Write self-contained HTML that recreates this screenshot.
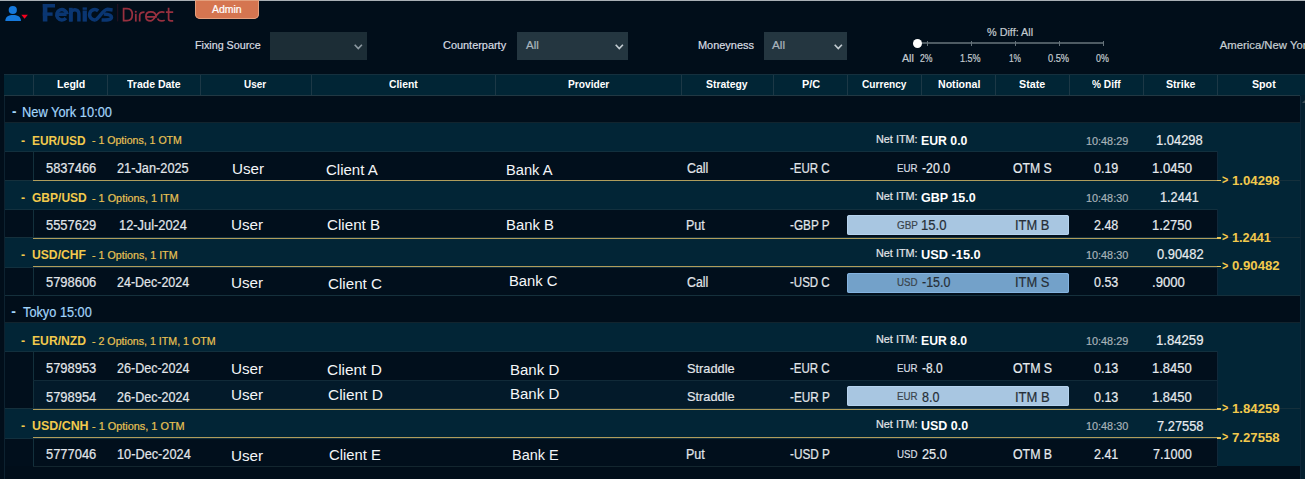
<!DOCTYPE html>
<html><head><meta charset="utf-8"><style>
html,body{margin:0;padding:0;width:1305px;height:479px;overflow:hidden;background:#010e1a;}
.r{position:absolute;}
.t{position:absolute;white-space:nowrap;font-family:"Liberation Sans", sans-serif;transform-origin:0 0;}
</style></head><body>
<div class="r" style="left:0px;top:0px;width:1305px;height:1px;background:#a9b0b5;"></div>
<div class="r" style="left:195px;top:0px;width:64px;height:19px;background:#d57550;border-radius:0 0 5px 5px;box-shadow:inset 0 0 0 1px #e4a07e;"></div>
<div class="r" style="left:270px;top:32px;width:97px;height:28px;background:#1c2d36;"></div>
<div class="r" style="left:517px;top:32px;width:111px;height:28px;background:#243640;"></div>
<div class="r" style="left:764px;top:32px;width:83px;height:28px;background:#243640;"></div>
<div class="r" style="left:917px;top:42px;width:187px;height:2px;background:#4e5b63;"></div>
<div class="r" style="left:926.5px;top:41px;width:1px;height:5px;background:#66737a;"></div>
<div class="r" style="left:970.5px;top:41px;width:1px;height:5px;background:#66737a;"></div>
<div class="r" style="left:1015px;top:41px;width:1px;height:5px;background:#66737a;"></div>
<div class="r" style="left:1059px;top:41px;width:1px;height:5px;background:#66737a;"></div>
<div class="r" style="left:1103px;top:41px;width:1px;height:5px;background:#66737a;"></div>
<div class="r" style="left:912.9px;top:38.8px;width:9px;height:9px;border-radius:50%;background:#ffffff"></div>
<div class="r" style="left:4px;top:74px;width:1301px;height:22px;background:#012535;box-shadow:inset 0 1px 0 #15303e;"></div>
<div class="r" style="left:4px;top:95px;width:1296px;height:1px;background:#213843;"></div>
<div class="r" style="left:33px;top:75px;width:1px;height:20px;background:#1c3846;"></div>
<div class="r" style="left:107px;top:75px;width:1px;height:20px;background:#1c3846;"></div>
<div class="r" style="left:200px;top:75px;width:1px;height:20px;background:#1c3846;"></div>
<div class="r" style="left:311px;top:75px;width:1px;height:20px;background:#1c3846;"></div>
<div class="r" style="left:495px;top:75px;width:1px;height:20px;background:#1c3846;"></div>
<div class="r" style="left:681px;top:75px;width:1px;height:20px;background:#1c3846;"></div>
<div class="r" style="left:773px;top:75px;width:1px;height:20px;background:#1c3846;"></div>
<div class="r" style="left:847px;top:75px;width:1px;height:20px;background:#1c3846;"></div>
<div class="r" style="left:921px;top:75px;width:1px;height:20px;background:#1c3846;"></div>
<div class="r" style="left:995px;top:75px;width:1px;height:20px;background:#1c3846;"></div>
<div class="r" style="left:1069px;top:75px;width:1px;height:20px;background:#1c3846;"></div>
<div class="r" style="left:1143px;top:75px;width:1px;height:20px;background:#1c3846;"></div>
<div class="r" style="left:1217px;top:75px;width:1px;height:20px;background:#1c3846;"></div>
<div class="r" style="left:4px;top:96px;width:1px;height:383px;background:#0d2230;"></div>
<div class="r" style="left:5px;top:96px;width:1295px;height:370px;background:#022536;"></div>
<div class="r" style="left:5px;top:96px;width:1295px;height:27px;background:#010e1a;"></div>
<div class="r" style="left:5px;top:122px;width:1295px;height:1px;background:#12242e;"></div>
<div class="r" style="left:5px;top:151px;width:28px;height:29px;background:#010f1c;"></div>
<div class="r" style="left:33px;top:151px;width:1184px;height:29px;background:#010f1c;"></div>
<div class="r" style="left:5px;top:151px;width:1212px;height:1px;background:#12303e;"></div>
<div class="r" style="left:33px;top:151px;width:1px;height:29px;background:#13303c;"></div>
<div class="r" style="left:1217px;top:151px;width:1px;height:29px;background:#10283a;"></div>
<div class="r" style="left:5px;top:180px;width:1295px;height:1px;background:#15303c;"></div>
<div class="r" style="left:5px;top:209px;width:28px;height:28px;background:#010f1c;"></div>
<div class="r" style="left:33px;top:209px;width:1184px;height:28px;background:#010f1c;"></div>
<div class="r" style="left:5px;top:209px;width:1212px;height:1px;background:#12303e;"></div>
<div class="r" style="left:33px;top:209px;width:1px;height:28px;background:#13303c;"></div>
<div class="r" style="left:1217px;top:209px;width:1px;height:28px;background:#10283a;"></div>
<div class="r" style="left:5px;top:237px;width:1295px;height:1px;background:#15303c;"></div>
<div class="r" style="left:5px;top:267px;width:28px;height:28px;background:#010f1c;"></div>
<div class="r" style="left:33px;top:267px;width:1184px;height:28px;background:#010f1c;"></div>
<div class="r" style="left:5px;top:267px;width:1212px;height:1px;background:#12303e;"></div>
<div class="r" style="left:33px;top:267px;width:1px;height:28px;background:#13303c;"></div>
<div class="r" style="left:1217px;top:267px;width:1px;height:28px;background:#10283a;"></div>
<div class="r" style="left:5px;top:295px;width:1295px;height:1px;background:#15303c;"></div>
<div class="r" style="left:5px;top:296px;width:1295px;height:27px;background:#010e1a;"></div>
<div class="r" style="left:5px;top:322px;width:1295px;height:1px;background:#12242e;"></div>
<div class="r" style="left:5px;top:351px;width:28px;height:29px;background:#010f1c;"></div>
<div class="r" style="left:33px;top:351px;width:1184px;height:29px;background:#010f1c;"></div>
<div class="r" style="left:5px;top:351px;width:1212px;height:1px;background:#12303e;"></div>
<div class="r" style="left:33px;top:351px;width:1px;height:29px;background:#13303c;"></div>
<div class="r" style="left:1217px;top:351px;width:1px;height:29px;background:#10283a;"></div>
<div class="r" style="left:5px;top:380px;width:28px;height:28px;background:#010f1c;"></div>
<div class="r" style="left:33px;top:380px;width:1184px;height:28px;background:#031a2a;"></div>
<div class="r" style="left:33px;top:380px;width:1px;height:28px;background:#13303c;"></div>
<div class="r" style="left:1217px;top:380px;width:1px;height:28px;background:#10283a;"></div>
<div class="r" style="left:33px;top:380px;width:1184px;height:1px;background:#112a38;"></div>
<div class="r" style="left:5px;top:408px;width:1295px;height:1px;background:#15303c;"></div>
<div class="r" style="left:5px;top:438px;width:28px;height:28px;background:#010f1c;"></div>
<div class="r" style="left:33px;top:438px;width:1184px;height:28px;background:#010f1c;"></div>
<div class="r" style="left:5px;top:438px;width:1212px;height:1px;background:#12303e;"></div>
<div class="r" style="left:33px;top:438px;width:1px;height:28px;background:#13303c;"></div>
<div class="r" style="left:1217px;top:438px;width:1px;height:28px;background:#10283a;"></div>
<div class="r" style="left:5px;top:466px;width:1295px;height:13px;background:#010e1a;"></div>
<div class="r" style="left:33px;top:466px;width:1184px;height:1px;background:#13262f;"></div>
<div class="r" style="left:1300px;top:96px;width:1px;height:383px;background:#10283a;"></div>
<div class="r" style="left:1301px;top:95px;width:4px;height:384px;background:#05202f;"></div>
<svg class="r" style="left:1302px;top:100px" width="3" height="3" viewBox="0 0 3 3"><path d="M0 3 L2.5 0.3 L3 0.8 L3 3Z" fill="#3c4c56"/></svg>
<div class="r" style="left:847px;top:215px;width:222px;height:19.80000000000001px;background:#a8c6e1;border-radius:2.5px;box-shadow:inset 0 0 0 1px #b6d3ee"></div>
<div class="r" style="left:847px;top:272.5px;width:222px;height:20.30000000000001px;background:#73a1c9;border-radius:2.5px;box-shadow:inset 0 0 0 1px #84b3e0"></div>
<div class="r" style="left:847px;top:386.4px;width:222px;height:19.80000000000001px;background:#a8c6e1;border-radius:2.5px;box-shadow:inset 0 0 0 1px #b6d3ee"></div>
<div class="r" style="left:33px;top:180px;width:1184px;height:1.2px;background:#b09d5c"></div>
<div class="r" style="left:1216.5px;top:179.7px;width:4.8px;height:1.8px;background:#e8c558"></div>
<div class="r" style="left:33px;top:237.5px;width:1184px;height:1.2px;background:#b09d5c"></div>
<div class="r" style="left:1216.5px;top:237.2px;width:4.8px;height:1.8px;background:#e8c558"></div>
<div class="r" style="left:33px;top:266px;width:1184px;height:1.2px;background:#b09d5c"></div>
<div class="r" style="left:1216.5px;top:265.7px;width:4.8px;height:1.8px;background:#e8c558"></div>
<div class="r" style="left:33px;top:408.5px;width:1184px;height:1.2px;background:#b09d5c"></div>
<div class="r" style="left:1216.5px;top:408.2px;width:4.8px;height:1.8px;background:#e8c558"></div>
<div class="r" style="left:33px;top:437.3px;width:1184px;height:1.2px;background:#b09d5c"></div>
<div class="r" style="left:1216.5px;top:437.0px;width:4.8px;height:1.8px;background:#e8c558"></div>

<svg class="r" style="left:0;top:0" width="200" height="30" viewBox="0 0 200 30">
  <circle cx="12.8" cy="10" r="4.1" fill="#1679dc"/>
  <path d="M5.3 21 C5.3 16.5 9 15 13.1 15 C17.2 15 21 16.5 21 21 Z" fill="#1679dc"/>
  <path d="M21.3 14.7 L27.8 14.7 L24.55 18.8 Z" fill="#f5001e"/>
</svg>
<svg class="r" style="left:354px;top:44px" width="10" height="7" viewBox="0 0 10 7"><path d="M0.7 0.7 L4.3 4.6 L7.9 0.7" stroke="#8d9aa2" stroke-width="1.6" fill="none"/></svg>
<svg class="r" style="left:615px;top:44px" width="10" height="7" viewBox="0 0 10 7"><path d="M0.7 0.7 L4.3 4.6 L7.9 0.7" stroke="#c4cdd2" stroke-width="1.6" fill="none"/></svg>
<svg class="r" style="left:834px;top:44px" width="10" height="7" viewBox="0 0 10 7"><path d="M0.7 0.7 L4.3 4.6 L7.9 0.7" stroke="#c4cdd2" stroke-width="1.6" fill="none"/></svg>


<svg class="r" style="left:0;top:0" width="180" height="26" viewBox="0 0 180 26">
 <g fill="#0a3672">
  <rect x="42.8" y="4" width="4.6" height="17.5"/>
  <rect x="42.8" y="4" width="12.2" height="3.5"/>
  <rect x="42.8" y="12.4" width="9.8" height="3.4"/>
  <rect x="68.9" y="7.8" width="3.8" height="13.7"/>
  <rect x="82.6" y="7.4" width="4.3" height="2.4"/>
  <rect x="82.6" y="10.5" width="4.3" height="11.1"/>
 </g>
 <g fill="none" stroke="#0a3672" stroke-width="3.5">
  <path d="M57.2 14.3 L66.6 14.3 M67.1 14.3 A5.2 5.2 0 1 0 65.9 18.2"/>
  <path d="M70.8 21.5 L70.8 13.7 A4.05 4.05 0 0 1 78.9 13.7 L78.9 21.5"/>
  <path d="M98.2 10.9 A5.15 5.15 0 1 0 95.6 19.8"/>
  <path d="M95.2 19.9 C99 18.5, 103 9.5, 107.5 9.3 L112.6 10"/>
  <path d="M103.8 13.9 C107 14.1, 111.5 14.4, 111.5 17.3 C111.5 20.3, 106 20.1, 101.6 19.9"/>
 </g>
 <rect x="117.2" y="4" width="1" height="17.4" fill="#2a1222"/>
 <g fill="none" stroke="#97303f" stroke-width="1.75" stroke-linecap="butt">
  <path d="M123.6 8.5 L123.6 20.7 L127 20.7 C131 20.7 132.3 17.5 132.3 14.6 C132.3 11.5 131 8.5 127 8.5 Z"/>
  <path d="M135.8 13.8 L135.8 21.6"/>
  <path d="M139.7 21.6 L139.7 15.5 C139.7 13 141.5 12 144.5 12"/>
  <path d="M146.2 16.8 L156 16.8 C156 13.5 153.8 11.9 150.8 11.9 C147.7 11.9 145.9 13.8 145.9 16.5 C145.9 19.5 147.7 20.9 150.5 20.9 C154 20.9 157 13 159.5 12.3 C161.5 11.8 163.5 12 164.5 12.5"/>
  <path d="M157.6 18.5 C158.3 20.3 159.8 20.9 161.6 20.9 C163 20.9 164 20.6 164.7 20.1"/>
  <path d="M168.6 7.8 L168.6 19 C168.6 20.4 169.6 20.9 171 20.9 L173.2 20.8 M165.9 12 L173.2 12"/>
 </g>
 <circle cx="135.8" cy="11.7" r="1.05" fill="#97303f"/>
</svg>

<div class="t" style="left:212.20px;top:4.54px;font-size:10px;line-height:10px;font-weight:400;color:#ffffff;transform:scaleX(1.0474);-webkit-text-stroke:0.2px currentColor;">Admin</div>
<div class="t" style="left:194.50px;top:39.69px;font-size:11px;line-height:11px;font-weight:400;color:#d8dde2;transform:scaleX(0.9757);-webkit-text-stroke:0.2px currentColor;">Fixing Source</div>
<div class="t" style="left:443.40px;top:39.99px;font-size:11px;line-height:11px;font-weight:400;color:#d8dde2;transform:scaleX(0.9924);-webkit-text-stroke:0.2px currentColor;">Counterparty</div>
<div class="t" style="left:525.70px;top:40.19px;font-size:11px;line-height:11px;font-weight:400;color:#a9b5bd;transform:scaleX(1.0441);-webkit-text-stroke:0.2px currentColor;">All</div>
<div class="t" style="left:697.60px;top:39.69px;font-size:11px;line-height:11px;font-weight:400;color:#d8dde2;transform:scaleX(0.9938);-webkit-text-stroke:0.2px currentColor;">Moneyness</div>
<div class="t" style="left:772.40px;top:40.19px;font-size:11px;line-height:11px;font-weight:400;color:#a9b5bd;transform:scaleX(1.0695);-webkit-text-stroke:0.2px currentColor;">All</div>
<div class="t" style="left:986.70px;top:26.59px;font-size:11px;line-height:11px;font-weight:400;color:#c4cbd0;transform:scaleX(0.9845);-webkit-text-stroke:0.2px currentColor;">% Diff: All</div>
<div class="t" style="left:902.00px;top:53.73px;font-size:10px;line-height:10px;font-weight:400;color:#c4cbd0;transform:scaleX(1.0650);-webkit-text-stroke:0.2px currentColor;">All</div>
<div class="t" style="left:920.00px;top:53.73px;font-size:10px;line-height:10px;font-weight:400;color:#c4cbd0;transform:scaleX(0.8653);-webkit-text-stroke:0.2px currentColor;">2%</div>
<div class="t" style="left:960.00px;top:53.73px;font-size:10px;line-height:10px;font-weight:400;color:#c4cbd0;transform:scaleX(0.9039);-webkit-text-stroke:0.2px currentColor;">1.5%</div>
<div class="t" style="left:1008.80px;top:53.73px;font-size:10px;line-height:10px;font-weight:400;color:#c4cbd0;transform:scaleX(0.8310);-webkit-text-stroke:0.2px currentColor;">1%</div>
<div class="t" style="left:1047.60px;top:53.73px;font-size:10px;line-height:10px;font-weight:400;color:#c4cbd0;transform:scaleX(0.9257);-webkit-text-stroke:0.2px currentColor;">0.5%</div>
<div class="t" style="left:1095.90px;top:53.73px;font-size:10px;line-height:10px;font-weight:400;color:#c4cbd0;transform:scaleX(0.8859);-webkit-text-stroke:0.2px currentColor;">0%</div>
<div class="t" style="left:1219.80px;top:40.23px;font-size:11.3px;line-height:11.3px;font-weight:400;color:#c8d0d5;-webkit-text-stroke:0.2px currentColor;">America/New York</div>
<div class="t" style="left:56.70px;top:78.69px;font-size:11px;line-height:11px;font-weight:700;color:#ffffff;transform:scaleX(0.9646);">LegId</div>
<div class="t" style="left:127.20px;top:78.69px;font-size:11px;line-height:11px;font-weight:700;color:#ffffff;transform:scaleX(0.9550);">Trade Date</div>
<div class="t" style="left:244.00px;top:78.69px;font-size:11px;line-height:11px;font-weight:700;color:#ffffff;transform:scaleX(0.9055);">User</div>
<div class="t" style="left:388.90px;top:78.69px;font-size:11px;line-height:11px;font-weight:700;color:#ffffff;transform:scaleX(0.9420);">Client</div>
<div class="t" style="left:567.60px;top:78.69px;font-size:11px;line-height:11px;font-weight:700;color:#ffffff;transform:scaleX(0.9262);">Provider</div>
<div class="t" style="left:706.00px;top:78.69px;font-size:11px;line-height:11px;font-weight:700;color:#ffffff;transform:scaleX(0.9444);">Strategy</div>
<div class="t" style="left:801.50px;top:78.69px;font-size:11px;line-height:11px;font-weight:700;color:#ffffff;transform:scaleX(0.9895);">P/C</div>
<div class="t" style="left:861.70px;top:78.69px;font-size:11px;line-height:11px;font-weight:700;color:#ffffff;transform:scaleX(0.9211);">Currency</div>
<div class="t" style="left:937.50px;top:78.69px;font-size:11px;line-height:11px;font-weight:700;color:#ffffff;transform:scaleX(0.9627);">Notional</div>
<div class="t" style="left:1019.40px;top:78.69px;font-size:11px;line-height:11px;font-weight:700;color:#ffffff;transform:scaleX(0.9746);">State</div>
<div class="t" style="left:1092.00px;top:78.69px;font-size:11px;line-height:11px;font-weight:700;color:#ffffff;transform:scaleX(0.9206);">% Diff</div>
<div class="t" style="left:1166.00px;top:78.69px;font-size:11px;line-height:11px;font-weight:700;color:#ffffff;transform:scaleX(0.9654);">Strike</div>
<div class="t" style="left:1252.00px;top:78.69px;font-size:11px;line-height:11px;font-weight:700;color:#ffffff;transform:scaleX(0.9687);">Spot</div>
<div class="t" style="left:11.50px;top:104.15px;font-size:14px;line-height:14px;font-weight:700;color:#a2d5fa;transform:scaleX(0.9600);">-</div>
<div class="t" style="left:21.78px;top:105.15px;font-size:14px;line-height:14px;font-weight:400;color:#a2d5fa;transform:scaleX(0.9176);-webkit-text-stroke:0.2px currentColor;">New York 10:00</div>
<div class="t" style="left:11.30px;top:304.15px;font-size:14px;line-height:14px;font-weight:700;color:#a2d5fa;">-</div>
<div class="t" style="left:22.60px;top:305.15px;font-size:14px;line-height:14px;font-weight:400;color:#a2d5fa;transform:scaleX(0.9114);-webkit-text-stroke:0.2px currentColor;">Tokyo 15:00</div>
<div class="t" style="left:20.70px;top:134.94px;font-size:12px;line-height:12px;font-weight:700;color:#f2c94c;transform:scaleX(1.0250);">-</div>
<div class="t" style="left:31.50px;top:133.80px;font-size:13px;line-height:13px;font-weight:700;color:#f2c94c;transform:scaleX(0.9137);">EUR/USD</div>
<div class="t" style="left:91.60px;top:135.49px;font-size:11px;line-height:11px;font-weight:400;color:#e8c254;transform:scaleX(0.9608);-webkit-text-stroke:0.2px currentColor;">- 1 Options, 1 OTM</div>
<div class="t" style="left:875.70px;top:133.99px;font-size:11px;line-height:11px;font-weight:400;color:#e2e6ea;transform:scaleX(0.9855);-webkit-text-stroke:0.2px currentColor;">Net ITM:</div>
<div class="t" style="left:921.40px;top:133.57px;font-size:13.5px;line-height:13.5px;font-weight:700;color:#ffffff;transform:scaleX(0.9087);">EUR 0.0</div>
<div class="t" style="left:1086.10px;top:135.79px;font-size:11px;line-height:11px;font-weight:400;color:#a8b2b9;transform:scaleX(0.9859);-webkit-text-stroke:0.2px currentColor;">10:48:29</div>
<div class="t" style="left:1156.48px;top:133.15px;font-size:14px;line-height:14px;font-weight:400;color:#e8ecef;transform:scaleX(0.9233);-webkit-text-stroke:0.2px currentColor;">1.04298</div>
<div class="t" style="left:20.70px;top:192.14px;font-size:12px;line-height:12px;font-weight:700;color:#f2c94c;transform:scaleX(1.0250);">-</div>
<div class="t" style="left:31.50px;top:191.00px;font-size:13px;line-height:13px;font-weight:700;color:#f2c94c;transform:scaleX(0.9245);">GBP/USD</div>
<div class="t" style="left:91.60px;top:192.69px;font-size:11px;line-height:11px;font-weight:400;color:#e8c254;transform:scaleX(0.9856);-webkit-text-stroke:0.2px currentColor;">- 1 Options, 1 ITM</div>
<div class="t" style="left:875.70px;top:191.19px;font-size:11px;line-height:11px;font-weight:400;color:#e2e6ea;transform:scaleX(0.9855);-webkit-text-stroke:0.2px currentColor;">Net ITM:</div>
<div class="t" style="left:921.40px;top:190.77px;font-size:13.5px;line-height:13.5px;font-weight:700;color:#ffffff;transform:scaleX(0.9273);">GBP 15.0</div>
<div class="t" style="left:1086.10px;top:192.99px;font-size:11px;line-height:11px;font-weight:400;color:#a8b2b9;transform:scaleX(0.9859);-webkit-text-stroke:0.2px currentColor;">10:48:30</div>
<div class="t" style="left:1159.79px;top:190.35px;font-size:14px;line-height:14px;font-weight:400;color:#e8ecef;transform:scaleX(0.9064);-webkit-text-stroke:0.2px currentColor;">1.2441</div>
<div class="t" style="left:20.70px;top:249.14px;font-size:12px;line-height:12px;font-weight:700;color:#f2c94c;transform:scaleX(1.0250);">-</div>
<div class="t" style="left:31.50px;top:248.00px;font-size:13px;line-height:13px;font-weight:700;color:#f2c94c;transform:scaleX(0.9337);">USD/CHF</div>
<div class="t" style="left:91.60px;top:249.69px;font-size:11px;line-height:11px;font-weight:400;color:#e8c254;transform:scaleX(0.9720);-webkit-text-stroke:0.2px currentColor;">- 1 Options, 1 ITM</div>
<div class="t" style="left:875.70px;top:248.19px;font-size:11px;line-height:11px;font-weight:400;color:#e2e6ea;transform:scaleX(0.9855);-webkit-text-stroke:0.2px currentColor;">Net ITM:</div>
<div class="t" style="left:921.40px;top:247.77px;font-size:13.5px;line-height:13.5px;font-weight:700;color:#ffffff;transform:scaleX(0.9470);">USD -15.0</div>
<div class="t" style="left:1086.10px;top:249.99px;font-size:11px;line-height:11px;font-weight:400;color:#a8b2b9;transform:scaleX(0.9859);-webkit-text-stroke:0.2px currentColor;">10:48:30</div>
<div class="t" style="left:1156.60px;top:247.35px;font-size:14px;line-height:14px;font-weight:400;color:#e8ecef;transform:scaleX(0.9209);-webkit-text-stroke:0.2px currentColor;">0.90482</div>
<div class="t" style="left:20.70px;top:335.14px;font-size:12px;line-height:12px;font-weight:700;color:#f2c94c;transform:scaleX(1.0250);">-</div>
<div class="t" style="left:31.50px;top:334.00px;font-size:13px;line-height:13px;font-weight:700;color:#f2c94c;transform:scaleX(0.9357);">EUR/NZD</div>
<div class="t" style="left:91.60px;top:335.69px;font-size:11px;line-height:11px;font-weight:400;color:#e8c254;transform:scaleX(0.9672);-webkit-text-stroke:0.2px currentColor;">- 2 Options, 1 ITM, 1 OTM</div>
<div class="t" style="left:875.70px;top:334.19px;font-size:11px;line-height:11px;font-weight:400;color:#e2e6ea;transform:scaleX(0.9855);-webkit-text-stroke:0.2px currentColor;">Net ITM:</div>
<div class="t" style="left:921.40px;top:333.77px;font-size:13.5px;line-height:13.5px;font-weight:700;color:#ffffff;transform:scaleX(0.9027);">EUR 8.0</div>
<div class="t" style="left:1086.10px;top:335.99px;font-size:11px;line-height:11px;font-weight:400;color:#a8b2b9;transform:scaleX(0.9859);-webkit-text-stroke:0.2px currentColor;">10:48:29</div>
<div class="t" style="left:1155.86px;top:333.35px;font-size:14px;line-height:14px;font-weight:400;color:#e8ecef;transform:scaleX(0.9374);-webkit-text-stroke:0.2px currentColor;">1.84259</div>
<div class="t" style="left:20.70px;top:420.44px;font-size:12px;line-height:12px;font-weight:700;color:#f2c94c;transform:scaleX(1.0250);">-</div>
<div class="t" style="left:31.50px;top:419.30px;font-size:13px;line-height:13px;font-weight:700;color:#f2c94c;transform:scaleX(0.9552);">USD/CNH</div>
<div class="t" style="left:91.60px;top:420.99px;font-size:11px;line-height:11px;font-weight:400;color:#e8c254;transform:scaleX(0.9907);-webkit-text-stroke:0.2px currentColor;">- 1 Options, 1 OTM</div>
<div class="t" style="left:875.70px;top:419.49px;font-size:11px;line-height:11px;font-weight:400;color:#e2e6ea;transform:scaleX(0.9855);-webkit-text-stroke:0.2px currentColor;">Net ITM:</div>
<div class="t" style="left:921.40px;top:419.07px;font-size:13.5px;line-height:13.5px;font-weight:700;color:#ffffff;transform:scaleX(0.9225);">USD 0.0</div>
<div class="t" style="left:1086.10px;top:421.29px;font-size:11px;line-height:11px;font-weight:400;color:#a8b2b9;transform:scaleX(0.9859);-webkit-text-stroke:0.2px currentColor;">10:48:30</div>
<div class="t" style="left:1156.80px;top:418.65px;font-size:14px;line-height:14px;font-weight:400;color:#e8ecef;transform:scaleX(0.9189);-webkit-text-stroke:0.2px currentColor;">7.27558</div>
<div class="t" style="left:45.50px;top:161.15px;font-size:14px;line-height:14px;font-weight:400;color:#e2e6ea;transform:scaleX(0.9229);-webkit-text-stroke:0.2px currentColor;">5837466</div>
<div class="t" style="left:117.40px;top:161.15px;font-size:14px;line-height:14px;font-weight:400;color:#e2e6ea;transform:scaleX(0.9121);-webkit-text-stroke:0.2px currentColor;">21-Jan-2025</div>
<div class="t" style="left:231.62px;top:160.98px;font-size:15.5px;line-height:15.5px;font-weight:400;color:#f4f6f8;transform:scaleX(0.9821);">User</div>
<div class="t" style="left:326.40px;top:162.48px;font-size:15.5px;line-height:15.5px;font-weight:400;color:#f4f6f8;transform:scaleX(0.9684);">Client A</div>
<div class="t" style="left:505.86px;top:161.98px;font-size:15.5px;line-height:15.5px;font-weight:400;color:#f4f6f8;transform:scaleX(0.9449);">Bank A</div>
<div class="t" style="left:686.50px;top:161.15px;font-size:14px;line-height:14px;font-weight:400;color:#e2e6ea;transform:scaleX(0.8831);-webkit-text-stroke:0.2px currentColor;">Call</div>
<div class="t" style="left:790.00px;top:161.15px;font-size:14px;line-height:14px;font-weight:400;color:#e2e6ea;transform:scaleX(0.8231);-webkit-text-stroke:0.2px currentColor;">-EUR C</div>
<div class="t" style="left:896.60px;top:162.69px;font-size:11px;line-height:11px;font-weight:400;color:#d8dde2;transform:scaleX(0.8849);-webkit-text-stroke:0.2px currentColor;">EUR</div>
<div class="t" style="left:921.60px;top:161.15px;font-size:14px;line-height:14px;font-weight:400;color:#e6eaee;transform:scaleX(0.8841);-webkit-text-stroke:0.2px currentColor;">-20.0</div>
<div class="t" style="left:1013.30px;top:161.15px;font-size:14px;line-height:14px;font-weight:400;color:#e6eaee;transform:scaleX(0.8729);-webkit-text-stroke:0.2px currentColor;">OTM S</div>
<div class="t" style="left:1094.10px;top:161.15px;font-size:14px;line-height:14px;font-weight:400;color:#e6eaee;transform:scaleX(0.8921);-webkit-text-stroke:0.2px currentColor;">0.19</div>
<div class="t" style="left:1152.06px;top:161.15px;font-size:14px;line-height:14px;font-weight:400;color:#e6eaee;transform:scaleX(0.9373);-webkit-text-stroke:0.2px currentColor;">1.0450</div>
<div class="t" style="left:45.50px;top:218.45px;font-size:14px;line-height:14px;font-weight:400;color:#e2e6ea;transform:scaleX(0.9229);-webkit-text-stroke:0.2px currentColor;">5557629</div>
<div class="t" style="left:118.88px;top:218.45px;font-size:14px;line-height:14px;font-weight:400;color:#e2e6ea;transform:scaleX(0.9186);-webkit-text-stroke:0.2px currentColor;">12-Jul-2024</div>
<div class="t" style="left:231.22px;top:217.28px;font-size:15.5px;line-height:15.5px;font-weight:400;color:#f4f6f8;transform:scaleX(0.9821);">User</div>
<div class="t" style="left:327.20px;top:217.28px;font-size:15.5px;line-height:15.5px;font-weight:400;color:#f4f6f8;transform:scaleX(0.9790);">Client B</div>
<div class="t" style="left:506.44px;top:217.28px;font-size:15.5px;line-height:15.5px;font-weight:400;color:#f4f6f8;transform:scaleX(0.9581);">Bank B</div>
<div class="t" style="left:685.61px;top:218.45px;font-size:14px;line-height:14px;font-weight:400;color:#e2e6ea;transform:scaleX(0.8945);-webkit-text-stroke:0.2px currentColor;">Put</div>
<div class="t" style="left:790.00px;top:218.45px;font-size:14px;line-height:14px;font-weight:400;color:#e2e6ea;transform:scaleX(0.8405);-webkit-text-stroke:0.2px currentColor;">-GBP P</div>
<div class="t" style="left:896.60px;top:219.99px;font-size:11px;line-height:11px;font-weight:400;color:#3a444c;transform:scaleX(0.8998);-webkit-text-stroke:0.2px currentColor;">GBP</div>
<div class="t" style="left:920.67px;top:218.45px;font-size:14px;line-height:14px;font-weight:400;color:#262e36;transform:scaleX(0.9334);-webkit-text-stroke:0.2px currentColor;">15.0</div>
<div class="t" style="left:1014.98px;top:218.45px;font-size:14px;line-height:14px;font-weight:400;color:#262e36;transform:scaleX(0.9196);-webkit-text-stroke:0.2px currentColor;">ITM B</div>
<div class="t" style="left:1094.10px;top:218.45px;font-size:14px;line-height:14px;font-weight:400;color:#e6eaee;transform:scaleX(0.8921);-webkit-text-stroke:0.2px currentColor;">2.48</div>
<div class="t" style="left:1152.07px;top:218.45px;font-size:14px;line-height:14px;font-weight:400;color:#e6eaee;transform:scaleX(0.9254);-webkit-text-stroke:0.2px currentColor;">1.2750</div>
<div class="t" style="left:45.50px;top:275.15px;font-size:14px;line-height:14px;font-weight:400;color:#e2e6ea;transform:scaleX(0.9229);-webkit-text-stroke:0.2px currentColor;">5798606</div>
<div class="t" style="left:117.30px;top:275.15px;font-size:14px;line-height:14px;font-weight:400;color:#e2e6ea;transform:scaleX(0.8922);-webkit-text-stroke:0.2px currentColor;">24-Dec-2024</div>
<div class="t" style="left:230.62px;top:274.98px;font-size:15.5px;line-height:15.5px;font-weight:400;color:#f4f6f8;transform:scaleX(0.9821);">User</div>
<div class="t" style="left:328.00px;top:275.58px;font-size:15.5px;line-height:15.5px;font-weight:400;color:#f4f6f8;transform:scaleX(0.9794);">Client C</div>
<div class="t" style="left:508.65px;top:273.38px;font-size:15.5px;line-height:15.5px;font-weight:400;color:#f4f6f8;transform:scaleX(0.9550);">Bank C</div>
<div class="t" style="left:686.50px;top:275.15px;font-size:14px;line-height:14px;font-weight:400;color:#e2e6ea;transform:scaleX(0.8831);-webkit-text-stroke:0.2px currentColor;">Call</div>
<div class="t" style="left:790.00px;top:275.15px;font-size:14px;line-height:14px;font-weight:400;color:#e2e6ea;transform:scaleX(0.8231);-webkit-text-stroke:0.2px currentColor;">-USD C</div>
<div class="t" style="left:896.60px;top:276.69px;font-size:11px;line-height:11px;font-weight:400;color:#3a444c;transform:scaleX(0.8849);-webkit-text-stroke:0.2px currentColor;">USD</div>
<div class="t" style="left:921.60px;top:275.15px;font-size:14px;line-height:14px;font-weight:400;color:#262e36;transform:scaleX(0.8903);-webkit-text-stroke:0.2px currentColor;">-15.0</div>
<div class="t" style="left:1014.98px;top:275.15px;font-size:14px;line-height:14px;font-weight:400;color:#262e36;transform:scaleX(0.9196);-webkit-text-stroke:0.2px currentColor;">ITM S</div>
<div class="t" style="left:1094.10px;top:275.15px;font-size:14px;line-height:14px;font-weight:400;color:#e6eaee;transform:scaleX(0.8921);-webkit-text-stroke:0.2px currentColor;">0.53</div>
<div class="t" style="left:1152.07px;top:275.15px;font-size:14px;line-height:14px;font-weight:400;color:#e6eaee;transform:scaleX(0.9344);-webkit-text-stroke:0.2px currentColor;">.9000</div>
<div class="t" style="left:45.50px;top:361.15px;font-size:14px;line-height:14px;font-weight:400;color:#e2e6ea;transform:scaleX(0.9229);-webkit-text-stroke:0.2px currentColor;">5798953</div>
<div class="t" style="left:117.20px;top:361.15px;font-size:14px;line-height:14px;font-weight:400;color:#e2e6ea;transform:scaleX(0.8959);-webkit-text-stroke:0.2px currentColor;">26-Dec-2024</div>
<div class="t" style="left:231.22px;top:360.78px;font-size:15.5px;line-height:15.5px;font-weight:400;color:#f4f6f8;transform:scaleX(0.9821);">User</div>
<div class="t" style="left:327.20px;top:361.68px;font-size:15.5px;line-height:15.5px;font-weight:400;color:#f4f6f8;transform:scaleX(0.9939);">Client D</div>
<div class="t" style="left:509.53px;top:361.68px;font-size:15.5px;line-height:15.5px;font-weight:400;color:#f4f6f8;transform:scaleX(0.9691);">Bank D</div>
<div class="t" style="left:686.50px;top:361.57px;font-size:13.5px;line-height:13.5px;font-weight:400;color:#e2e6ea;transform:scaleX(0.9463);-webkit-text-stroke:0.2px currentColor;">Straddle</div>
<div class="t" style="left:790.00px;top:361.15px;font-size:14px;line-height:14px;font-weight:400;color:#e2e6ea;transform:scaleX(0.8231);-webkit-text-stroke:0.2px currentColor;">-EUR C</div>
<div class="t" style="left:896.60px;top:362.69px;font-size:11px;line-height:11px;font-weight:400;color:#d8dde2;transform:scaleX(0.8849);-webkit-text-stroke:0.2px currentColor;">EUR</div>
<div class="t" style="left:921.60px;top:361.15px;font-size:14px;line-height:14px;font-weight:400;color:#e6eaee;transform:scaleX(0.8505);-webkit-text-stroke:0.2px currentColor;">-8.0</div>
<div class="t" style="left:1012.80px;top:361.15px;font-size:14px;line-height:14px;font-weight:400;color:#e6eaee;transform:scaleX(0.8820);-webkit-text-stroke:0.2px currentColor;">OTM S</div>
<div class="t" style="left:1094.10px;top:361.15px;font-size:14px;line-height:14px;font-weight:400;color:#e6eaee;transform:scaleX(0.8921);-webkit-text-stroke:0.2px currentColor;">0.13</div>
<div class="t" style="left:1152.07px;top:361.15px;font-size:14px;line-height:14px;font-weight:400;color:#e6eaee;transform:scaleX(0.9254);-webkit-text-stroke:0.2px currentColor;">1.8450</div>
<div class="t" style="left:45.50px;top:389.55px;font-size:14px;line-height:14px;font-weight:400;color:#e2e6ea;transform:scaleX(0.9229);-webkit-text-stroke:0.2px currentColor;">5798954</div>
<div class="t" style="left:117.20px;top:389.55px;font-size:14px;line-height:14px;font-weight:400;color:#e2e6ea;transform:scaleX(0.8959);-webkit-text-stroke:0.2px currentColor;">26-Dec-2024</div>
<div class="t" style="left:231.22px;top:387.18px;font-size:15.5px;line-height:15.5px;font-weight:400;color:#f4f6f8;transform:scaleX(0.9821);">User</div>
<div class="t" style="left:328.10px;top:387.18px;font-size:15.5px;line-height:15.5px;font-weight:400;color:#f4f6f8;transform:scaleX(0.9939);">Client D</div>
<div class="t" style="left:509.53px;top:386.18px;font-size:15.5px;line-height:15.5px;font-weight:400;color:#f4f6f8;transform:scaleX(0.9691);">Bank D</div>
<div class="t" style="left:686.50px;top:389.97px;font-size:13.5px;line-height:13.5px;font-weight:400;color:#e2e6ea;transform:scaleX(0.9463);-webkit-text-stroke:0.2px currentColor;">Straddle</div>
<div class="t" style="left:790.00px;top:389.55px;font-size:14px;line-height:14px;font-weight:400;color:#e2e6ea;transform:scaleX(0.8406);-webkit-text-stroke:0.2px currentColor;">-EUR P</div>
<div class="t" style="left:896.60px;top:391.09px;font-size:11px;line-height:11px;font-weight:400;color:#3a444c;transform:scaleX(0.8849);-webkit-text-stroke:0.2px currentColor;">EUR</div>
<div class="t" style="left:921.60px;top:389.55px;font-size:14px;line-height:14px;font-weight:400;color:#262e36;transform:scaleX(0.8945);-webkit-text-stroke:0.2px currentColor;">8.0</div>
<div class="t" style="left:1014.97px;top:389.55px;font-size:14px;line-height:14px;font-weight:400;color:#262e36;transform:scaleX(0.9307);-webkit-text-stroke:0.2px currentColor;">ITM B</div>
<div class="t" style="left:1094.10px;top:389.55px;font-size:14px;line-height:14px;font-weight:400;color:#e6eaee;transform:scaleX(0.8921);-webkit-text-stroke:0.2px currentColor;">0.13</div>
<div class="t" style="left:1152.07px;top:389.55px;font-size:14px;line-height:14px;font-weight:400;color:#e6eaee;transform:scaleX(0.9254);-webkit-text-stroke:0.2px currentColor;">1.8450</div>
<div class="t" style="left:45.50px;top:447.25px;font-size:14px;line-height:14px;font-weight:400;color:#e2e6ea;transform:scaleX(0.9229);-webkit-text-stroke:0.2px currentColor;">5777046</div>
<div class="t" style="left:117.39px;top:447.25px;font-size:14px;line-height:14px;font-weight:400;color:#e2e6ea;transform:scaleX(0.9108);-webkit-text-stroke:0.2px currentColor;">10-Dec-2024</div>
<div class="t" style="left:231.22px;top:448.18px;font-size:15.5px;line-height:15.5px;font-weight:400;color:#f4f6f8;transform:scaleX(0.9821);">User</div>
<div class="t" style="left:329.30px;top:447.48px;font-size:15.5px;line-height:15.5px;font-weight:400;color:#f4f6f8;transform:scaleX(0.9549);">Client E</div>
<div class="t" style="left:511.67px;top:447.48px;font-size:15.5px;line-height:15.5px;font-weight:400;color:#f4f6f8;transform:scaleX(0.9335);">Bank E</div>
<div class="t" style="left:685.61px;top:447.25px;font-size:14px;line-height:14px;font-weight:400;color:#e2e6ea;transform:scaleX(0.8945);-webkit-text-stroke:0.2px currentColor;">Put</div>
<div class="t" style="left:790.00px;top:447.25px;font-size:14px;line-height:14px;font-weight:400;color:#e2e6ea;transform:scaleX(0.8406);-webkit-text-stroke:0.2px currentColor;">-USD P</div>
<div class="t" style="left:896.60px;top:448.79px;font-size:11px;line-height:11px;font-weight:400;color:#d8dde2;transform:scaleX(0.8849);-webkit-text-stroke:0.2px currentColor;">USD</div>
<div class="t" style="left:921.60px;top:447.25px;font-size:14px;line-height:14px;font-weight:400;color:#e6eaee;transform:scaleX(0.9140);-webkit-text-stroke:0.2px currentColor;">25.0</div>
<div class="t" style="left:1012.80px;top:447.25px;font-size:14px;line-height:14px;font-weight:400;color:#e6eaee;transform:scaleX(0.8820);-webkit-text-stroke:0.2px currentColor;">OTM B</div>
<div class="t" style="left:1094.10px;top:447.25px;font-size:14px;line-height:14px;font-weight:400;color:#e6eaee;transform:scaleX(0.8921);-webkit-text-stroke:0.2px currentColor;">2.41</div>
<div class="t" style="left:1153.00px;top:447.25px;font-size:14px;line-height:14px;font-weight:400;color:#e6eaee;transform:scaleX(0.9039);-webkit-text-stroke:0.2px currentColor;">7.1000</div>
<div class="t" style="left:1221.80px;top:172.90px;font-size:13px;line-height:13px;font-weight:700;color:#f2c94c;transform:scaleX(0.8250);">&gt;</div>
<div class="t" style="left:1232.00px;top:173.50px;font-size:13px;line-height:13px;font-weight:700;color:#f2c94c;transform:scaleX(1.0136);">1.04298</div>
<div class="t" style="left:1221.80px;top:230.00px;font-size:13px;line-height:13px;font-weight:700;color:#f2c94c;transform:scaleX(0.8250);">&gt;</div>
<div class="t" style="left:1232.00px;top:230.60px;font-size:13px;line-height:13px;font-weight:700;color:#f2c94c;transform:scaleX(0.9790);">1.2441</div>
<div class="t" style="left:1221.80px;top:258.80px;font-size:13px;line-height:13px;font-weight:700;color:#f2c94c;transform:scaleX(0.8250);">&gt;</div>
<div class="t" style="left:1232.00px;top:259.40px;font-size:13px;line-height:13px;font-weight:700;color:#f2c94c;transform:scaleX(1.0136);">0.90482</div>
<div class="t" style="left:1221.80px;top:401.40px;font-size:13px;line-height:13px;font-weight:700;color:#f2c94c;transform:scaleX(0.8250);">&gt;</div>
<div class="t" style="left:1232.00px;top:402.00px;font-size:13px;line-height:13px;font-weight:700;color:#f2c94c;transform:scaleX(1.0136);">1.84259</div>
<div class="t" style="left:1221.80px;top:430.20px;font-size:13px;line-height:13px;font-weight:700;color:#f2c94c;transform:scaleX(0.8250);">&gt;</div>
<div class="t" style="left:1232.00px;top:430.80px;font-size:13px;line-height:13px;font-weight:700;color:#f2c94c;transform:scaleX(1.0136);">7.27558</div>
</body></html>
